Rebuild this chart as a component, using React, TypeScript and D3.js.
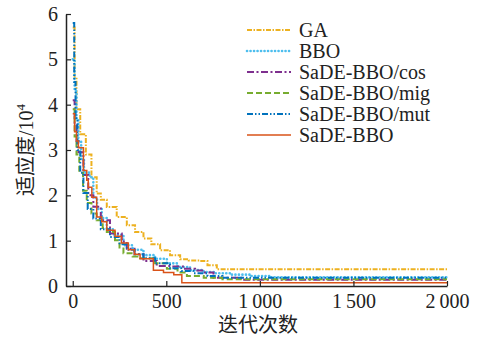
import React from 'react';
import * as d3 from 'd3';

// series data: [iteration, fitness/10^4]
const gaData = [[0, 5.7], [10, 4.6], [20, 3.9], [40, 3.35], [70, 2.9], [100, 2.4], [128, 2.04], [150, 1.9], [182, 1.74], [235, 1.52], [289, 1.34], [333, 1.19], [378, 1.05], [420, 0.92], [467, 0.79], [520, 0.68], [574, 0.59], [620, 0.56], [681, 0.55], [720, 0.46], [770, 0.37], [2000, 0.37]];
const bboData = [[0, 5.0], [10, 4.3], [20, 3.7], [30, 3.2], [45, 2.8], [60, 2.5], [90, 2.4], [110, 1.95], [130, 1.7], [155, 1.5], [182, 1.25], [217, 1.13], [271, 0.9], [320, 0.8], [378, 0.68], [440, 0.6], [503, 0.5], [560, 0.42], [627, 0.35], [700, 0.31], [760, 0.28], [850, 0.25], [950, 0.22], [1050, 0.19], [2000, 0.19]];
const cosData = [[0, 4.1], [10, 3.6], [20, 3.2], [30, 2.95], [57, 2.45], [83, 2.0], [110, 1.75], [150, 1.45], [199, 1.16], [262, 0.98], [289, 0.82], [330, 0.7], [378, 0.55], [449, 0.44], [529, 0.43], [600, 0.38], [654, 0.34], [700, 0.3], [752, 0.18], [900, 0.14], [2000, 0.14]];
const migData = [[0, 3.9], [10, 3.3], [20, 2.9], [35, 2.5], [55, 2.1], [75, 1.83], [100, 1.6], [128, 1.45], [160, 1.28], [182, 1.19], [226, 1.01], [250, 0.85], [271, 0.72], [320, 0.65], [360, 0.61], [440, 0.5], [503, 0.38], [560, 0.3], [610, 0.22], [700, 0.18], [800, 0.15], [2000, 0.15]];
const mutData = [[0, 5.8], [8, 4.5], [15, 3.7], [25, 3.0], [40, 2.5], [57, 2.05], [80, 1.7], [110, 1.49], [150, 1.25], [199, 1.08], [250, 0.92], [289, 0.8], [330, 0.7], [378, 0.61], [440, 0.5], [520, 0.39], [580, 0.33], [645, 0.28], [720, 0.22], [800, 0.18], [2000, 0.18]];
const sadeData = [[0, 3.8], [10, 3.4], [20, 3.2], [30, 3.05], [57, 2.55], [75, 2.33], [83, 2.18], [102, 1.96], [128, 1.52], [155, 1.42], [182, 1.23], [226, 1.1], [260, 0.95], [297, 0.8], [330, 0.7], [360, 0.6], [431, 0.35], [485, 0.3], [540, 0.25], [583, 0.07], [2000, 0.07]];

const seriesNames = ['GA', 'BBO', 'SaDE-BBO/cos', 'SaDE-BBO/mig', 'SaDE-BBO/mut', 'SaDE-BBO'];
const seriesData = [gaData, bboData, cosData, migData, mutData, sadeData];
const seriesColors = ['#EDB120', '#4DBEEE', '#7E2F8E', '#77AC30', '#0072BD', '#D95319'];
const seriesDash = ['5,1.5,1.5,1.5', '0.1,3.4', '7,2.5,2,2.5', '6,3', '6,2,1.5,2,1.5,2', 'none'];
const seriesWidth = [2, 2.6, 2, 2, 2, 1.5];

const xTicks = [0, 500, 1000, 1500, 2000];
const yTicks = [0, 1, 2, 3, 4, 5, 6];

const serif = '"Liberation Serif", "Times New Roman", "Noto Sans CJK SC", serif';

const App = () => {
  const width = 477;
  const height = 340;

  const x = d3.scaleLinear().domain([-36, 2000]).range([66, 447]);
  const y = d3.scaleLinear().domain([0, 6]).range([286, 14]);

  const line = d3.line<number[]>()
    .x(d => x(d[0]))
    .y(d => y(d[1]))
    .curve(d3.curveStepAfter);

  const fmt = (v: number) => (v >= 1000 ? `${Math.floor(v / 1000)}\u2009${d3.format('03d')(v % 1000)}` : `${v}`);

  // draw the axes through refs
  const xRef = React.useRef<SVGGElement>(null);
  const yRef = React.useRef<SVGGElement>(null);

  React.useEffect(() => {
    const gx = d3.select(xRef.current!);
    gx.selectAll('*').remove();
    gx.call(
      d3.axisBottom(x).tickValues(xTicks).tickSizeInner(-5).tickSizeOuter(0).tickPadding(8).tickFormat(d => fmt(+d))
    );
    const gy = d3.select(yRef.current!);
    gy.selectAll('*').remove();
    gy.call(
      d3.axisLeft(y).tickValues(yTicks).tickSizeInner(-5).tickSizeOuter(0).tickPadding(8).tickFormat(d => `${d}`)
    );
    [gx, gy].forEach(g => {
      g.selectAll('text').attr('font-family', serif).attr('font-size', 20).attr('fill', '#222');
      g.selectAll('line').attr('stroke', '#222').attr('stroke-width', 1.2);
      g.select('.domain').attr('stroke', '#222').attr('stroke-width', 1.5);
    });
  }, []);

  return (
    <svg width={width} height={height} style={{ position: 'absolute', left: 0, top: 0, background: '#fff' }}>
      {seriesData.map((d, i) => (
        <path
          key={seriesNames[i]}
          d={line(d as number[][]) || ''}
          fill="none"
          stroke={seriesColors[i]}
          strokeWidth={seriesWidth[i]}
          strokeDasharray={seriesDash[i]}
          strokeLinecap={i === 1 ? 'round' : 'butt'}
        />
      ))}
      <g ref={xRef} transform={`translate(0,${y(0)})`} />
      <g ref={yRef} transform={`translate(${x(-36)},0)`} />

      {/* legend */}
      <g>
        {seriesNames.map((name, i) => {
          const ly = 30 + i * 21;
          return (
            <g key={name}>
              <line x1={247} x2={291} y1={ly} y2={ly} stroke={seriesColors[i]} strokeWidth={seriesWidth[i]} strokeDasharray={seriesDash[i]} strokeLinecap={i === 1 ? 'round' : 'butt'} />
              <text x={299} y={ly} dy="0.35em" fontFamily={serif} fontSize={20} fill="#222">{name}</text>
            </g>
          );
        })}
      </g>

      {/* axis titles */}
      <text x={258} y={332} textAnchor="middle" fontFamily={serif} fontSize={20} fill="#222">迭代次数</text>
      <text transform="translate(33,150) rotate(-90)" textAnchor="middle" fontFamily={serif} fontSize={20} fill="#222">
        适应度/10<tspan fontSize={13} dy={-8}>4</tspan>
      </text>
    </svg>
  );
};

export default App;
